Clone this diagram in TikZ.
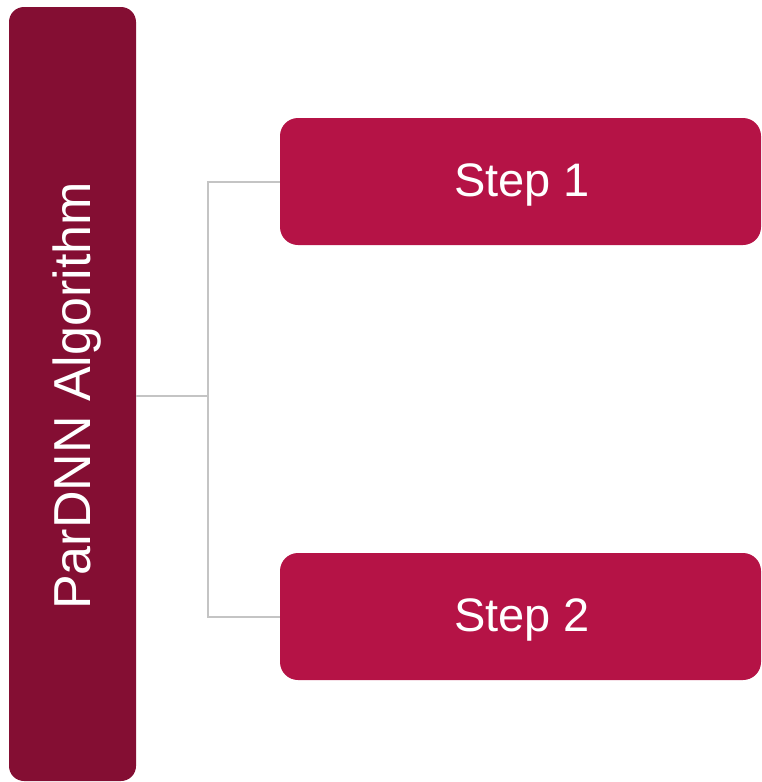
\documentclass[tikz,border=0pt]{standalone}
\usepackage{fontspec}
\setmainfont{Liberation Sans}
\definecolor{barred}{HTML}{840E33}
\definecolor{stepred}{HTML}{B51346}
\definecolor{linkgray}{HTML}{C4C4C4}
\begin{document}
\begin{tikzpicture}[x=1pt,y=-1pt,
  titlebar/.style={fill=barred, rounded corners=15pt, inner sep=0pt,
    minimum width=127pt, minimum height=774pt},
  stepbox/.style={fill=stepred, rounded corners=18pt, inner sep=0pt,
    minimum width=481pt, minimum height=127pt},
  steplabel/.style={text=white, font=\fontsize{47}{56}\selectfont},
  link/.style={draw=linkgray, line width=2pt}]
\useasboundingbox (0,0) rectangle (761,782);
% vertical title bar with rotated caption
\node[titlebar] (algo) at (72.5,394) {};
\node[text=white, rotate=90, font=\fontsize{52}{62}\selectfont] (algotext) at (77.5,396) {ParDNN Algorithm};
% the two steps
\node[stepbox] (s1) at (520.5,181.5) {};
\node[steplabel] (s1text) at (522,184.5) {Step 1};
\node[stepbox] (s2) at (520.5,616.5) {};
\node[steplabel] (s2text) at (522,619.5) {Step 2};
% tree connector
\coordinate (root) at (algo.east |- 0,396);
\coordinate (fork) at (208,396);
\draw[link] (root) -- (fork);
\draw[link] (fork) |- (s1.west);
\draw[link] (fork) |- (s2.west);
\end{tikzpicture}
\end{document}
